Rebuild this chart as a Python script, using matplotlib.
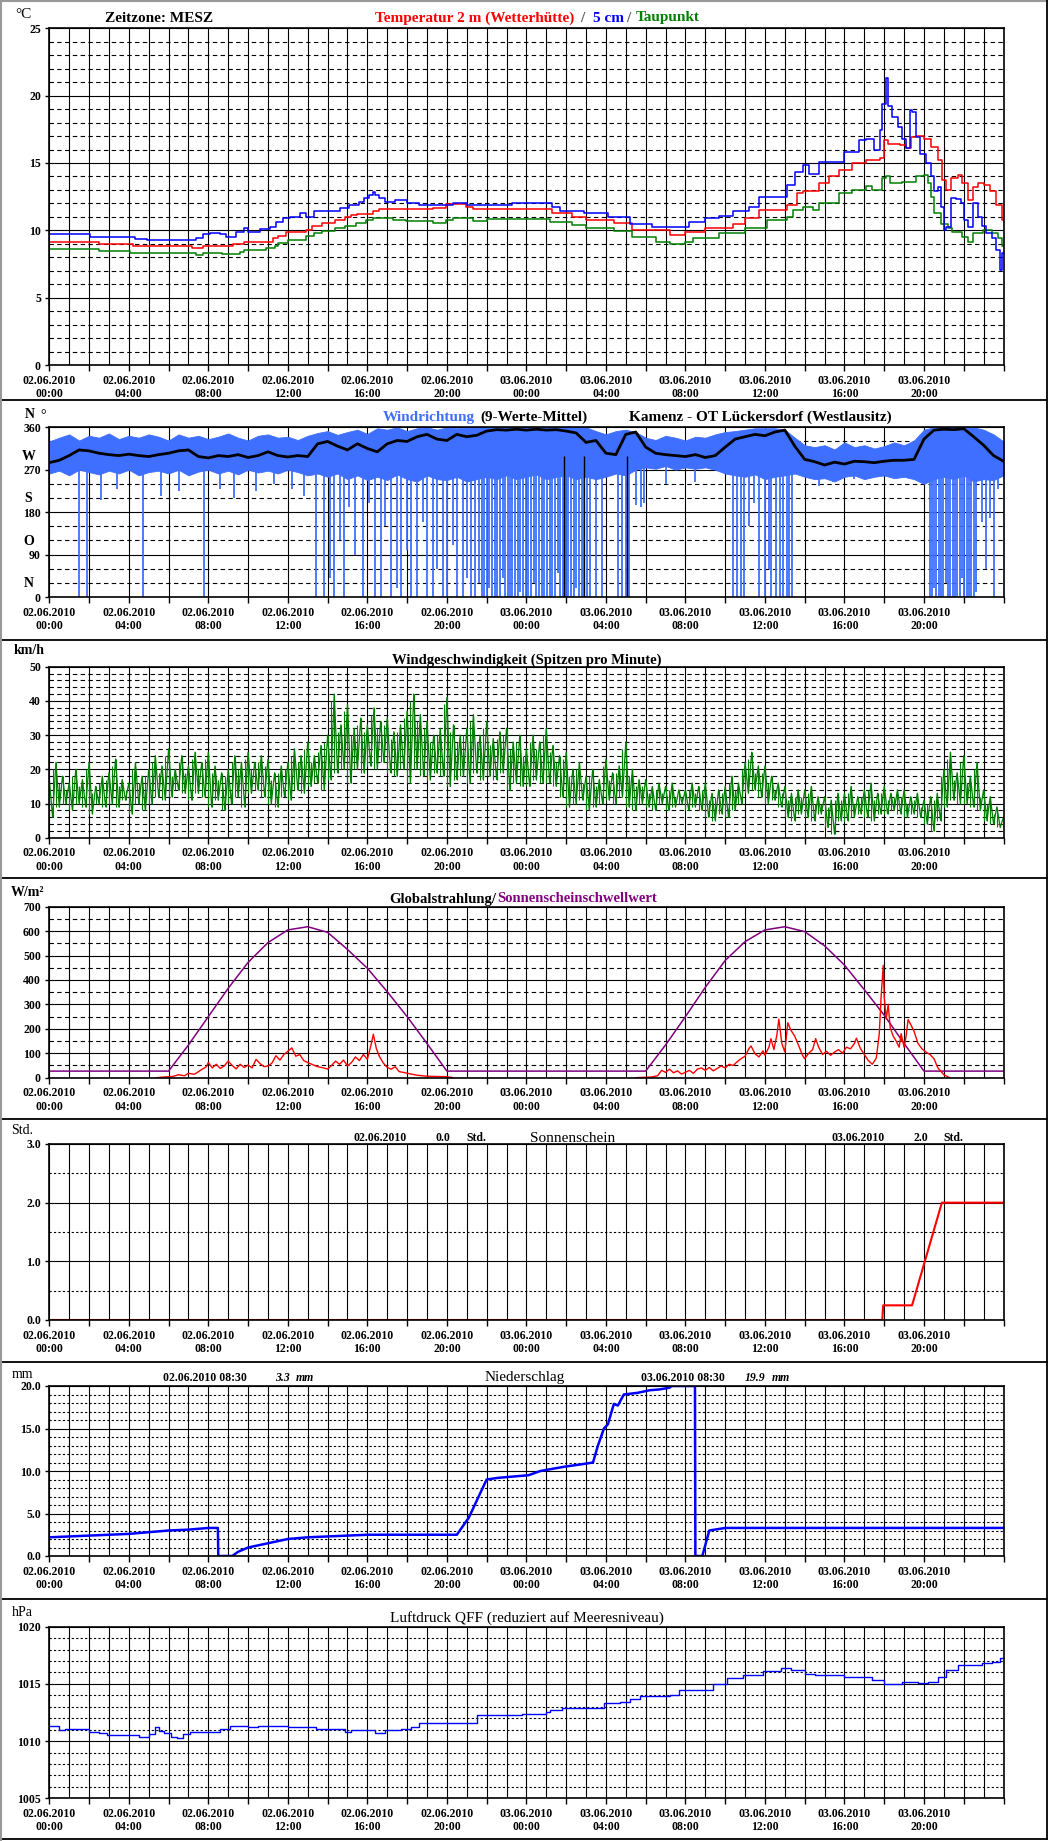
import numpy as np
import matplotlib.pyplot as plt
from matplotlib.lines import Line2D

W, H = 1052, 1841

# all times in hours since 02.06.2010 00:00 (MESZ)

# temperature 2 m (red), 5 cm (blue), dew point (green)
t2m_hours = [0, 2.5, 4.2, 4.9, 7.2, 7.75, 9.25, 9.8, 11.25, 11.5, 11.9, 12.9, 13.2, 13.7, 14.35, 14.85,
             15.2, 15.5, 16.3, 16.6, 19.3, 19.95, 20.95, 21.3, 25.3, 26.3, 27.0, 28.4, 29.3, 31.2, 32.0,
             33.0, 34.4, 35.0, 35.7, 37.1, 37.6, 37.9, 38.7, 39.2, 39.7, 40.4, 41.1, 41.8, 42.0, 42.2,
             42.8, 43.1, 43.35, 43.6, 44.0, 44.35, 44.7, 44.9, 45.1, 45.35, 45.7, 45.9, 46.2, 46.45,
             46.7, 47.0, 47.3, 47.6, 47.9, 48]
t2m_vals = [9.16, 8.96, 8.86, 8.84, 8.7, 8.84, 8.98, 9.16, 9.4, 9.58, 9.85, 10.0, 10.35, 10.57, 10.77, 10.97,
            11.14, 11.2, 11.43, 11.56, 11.68, 11.95, 11.75, 11.56, 11.26, 11.0, 10.8, 10.57, 10.0, 9.65, 9.9,
            10.15, 10.47, 10.9, 11.5, 11.9, 12.75, 12.9, 13.5, 14.0, 14.5, 15.0, 15.2, 15.35, 16.7, 16.4,
            16.3, 16.1, 16.95, 17.0, 16.8, 16.2, 15.2, 13.7, 13.0, 13.86, 14.1, 13.5, 12.25, 13.2,
            13.5, 13.4, 12.9, 11.9, 10.8, 10.6]

t5cm_hours = [0, 2.05, 3.05, 4.3, 4.9, 7.4, 7.75, 8.1, 8.6, 8.9, 9.4, 9.8, 10.0, 10.6, 11.1, 11.4, 11.75,
              12.1, 12.6, 12.9, 13.3, 14.3, 14.6, 15.1, 15.6, 15.85, 16.1, 16.3, 16.4, 16.6, 16.9, 17.4,
              18.0, 18.6, 20.3, 21.0, 23.3, 25.3, 25.7, 26.9, 28.1, 29.2, 30.3, 32.2, 33.0, 33.7, 34.4,
              35.2, 35.7, 37.1, 37.5, 37.9, 38.2, 38.7, 40.0, 40.75, 41.1, 41.5, 41.8, 41.9, 42.1, 42.2,
              42.4, 42.7, 42.9, 43.1, 43.3, 43.4, 43.6, 43.8, 44.1, 44.35, 44.5, 44.7, 44.85, 45.0, 45.1,
              45.35, 45.6, 45.85, 46.0, 46.2, 46.45, 46.7, 46.9, 47.1, 47.4, 47.6, 47.8, 47.9, 48]
t5cm_vals = [9.7, 9.53, 9.48, 9.33, 9.28, 9.4, 9.7, 9.8, 9.73, 9.53, 9.9, 10.15, 9.9, 10.07, 10.27, 10.6, 10.9,
             11.0, 11.26, 11.0, 11.4, 11.46, 11.68, 11.9, 12.13, 12.4, 12.6, 12.87, 12.6, 12.4, 12.13, 12.25,
             12.05, 11.9, 12.0, 11.9, 12.0, 11.75, 11.46, 11.26, 11.0, 10.5, 10.27, 10.6, 10.9, 11.06, 11.4,
             11.75, 12.5, 13.4, 14.35, 14.85, 14.2, 15.1, 15.84, 16.7, 16.8, 15.96, 17.45, 19.4, 21.3, 19.2,
             18.4, 17.7, 16.8, 16.1, 18.9, 18.8, 16.95, 15.7, 14.98, 14.0, 12.9, 13.2, 11.75, 10.0, 10.27,
             12.4, 12.3, 12.0, 10.77, 10.27, 12.0, 11.0, 10.3, 9.78, 9.4, 8.54, 7.05, 8.3, 8.3]

dew_hours = [0, 2.5, 4.05, 4.9, 7.4, 7.75, 8.7, 9.6, 9.8, 10.9, 11.35, 11.5, 12.0, 12.9, 13.3, 13.7, 14.35,
             14.85, 15.45, 15.95, 16.3, 17.3, 17.95, 19.3, 19.95, 20.3, 21.3, 22.0, 25.2, 26.3, 27.0, 28.4,
             29.3, 30.5, 31.2, 32.0, 32.4, 33.7, 35.0, 36.1, 37.1, 37.4, 37.9, 38.4, 38.7, 39.7, 40.4, 41.1,
             41.4, 41.9, 42.1, 42.3, 42.9, 43.6, 44.0, 44.2, 44.35, 44.5, 44.85, 45.2, 45.4, 45.9, 46.2,
             46.45, 46.95, 47.4, 47.7, 47.9, 48]
dew_vals = [8.61, 8.47, 8.34, 8.29, 8.17, 8.29, 8.24, 8.42, 8.54, 8.66, 8.84, 9.03, 9.28, 9.58, 9.78, 9.95, 10.15,
            10.32, 10.52, 10.77, 10.9, 10.8, 10.7, 10.57, 10.77, 10.94, 10.72, 10.84, 10.6, 10.4, 10.15, 9.98,
            9.48, 9.16, 8.98, 9.16, 9.4, 9.78, 10.15, 10.77, 11.0, 11.5, 11.75, 11.5, 12.0, 12.75, 13.0, 13.3,
            13.0, 13.86, 14.0, 13.5, 13.6, 14.0, 14.1, 13.5, 12.5, 11.26, 10.5, 10.15, 9.9, 9.5, 9.16,
            9.78, 10.0, 9.78, 9.4, 8.8, 8.8]

# wind direction, half-hourly: band edges and 9-value mean
dir_hours = np.arange(0, 48.5, 0.5)
dir_hi = [330, 338, 345, 332, 342, 338, 347, 335, 342, 338, 345,
          340, 332, 345, 338, 342, 335, 340, 347, 338, 332, 342,
          345, 338, 340, 333, 342, 348, 352, 344, 350, 355, 346,
          358, 355, 360, 352, 358, 360, 355, 360, 358, 360, 360,
          360, 360, 360, 360, 360, 360, 360, 360, 360, 360, 360,
          352, 345, 352, 355, 350, 338, 333, 342, 338, 332, 340,
          338, 345, 350, 352, 355, 358, 358, 358, 355, 338, 322,
          318, 322, 313, 328, 318, 322, 315, 320, 328, 322, 332,
          355, 360, 360, 360, 360, 360, 355, 345, 330]
dir_lo = [262, 268, 258, 270, 265, 260, 268, 262, 270, 258, 265,
          268, 262, 270, 258, 266, 270, 262, 268, 260, 270, 264,
          268, 262, 270, 265, 258, 262, 255, 262, 250, 258, 248,
          255, 248, 260, 250, 245, 258, 250, 248, 255, 245, 250,
          255, 250, 258, 250, 255, 260, 250, 255, 258, 250, 255,
          250, 255, 262, 258, 270, 275, 272, 278, 270, 275, 272,
          275, 270, 262, 258, 255, 260, 250, 255, 258, 262, 255,
          250, 252, 245, 255, 258, 250, 255, 258, 252, 255, 250,
          240, 250, 255, 250, 258, 245, 250, 248, 258]
dir_mean = [285, 290, 300, 312, 310, 305, 302, 300, 303, 300,
            298, 302, 305, 310, 312, 298, 295, 300, 298, 302,
            296, 300, 308, 300, 297, 300, 298, 325, 330, 320,
            312, 325, 315, 308, 325, 332, 330, 340, 345, 335,
            332, 345, 340, 343, 352, 355, 354, 356, 354, 356,
            354, 355, 352, 348, 328, 332, 305, 302, 345, 350,
            318, 305, 302, 300, 298, 302, 296, 300, 318, 335,
            340, 345, 342, 350, 354, 320, 292, 287, 280, 286,
            282, 288, 287, 285, 288, 290, 290, 292, 335, 354,
            356, 355, 357, 340, 322, 300, 288]
spike_hours = [1.5, 1.9, 2.6, 3.4, 4.7, 5.6, 6.5, 7.8, 8.6, 9.3, 10.4, 11.3, 12.2, 12.8, 13.4, 13.8, 14.1,
               14.3, 14.6, 14.8, 15.1, 15.4, 15.8, 16.1, 16.4, 16.7, 16.9, 17.2, 17.5, 17.7, 18.0, 18.2,
               18.5, 18.8, 19.0, 19.3, 19.5, 19.8, 20.0, 20.3, 20.5, 20.8, 21.0, 21.2, 21.4,
               21.6, 21.75, 21.85, 22.0, 22.1, 22.25, 22.4, 22.5, 22.65, 22.8, 22.9, 23.05, 23.2, 23.3,
               23.45, 23.6, 23.7, 23.85, 24.0, 24.1, 24.25, 24.4, 24.5, 24.65, 24.8, 24.9, 25.05, 25.2,
               25.3, 25.45, 25.6, 25.7, 25.85, 26.0, 26.1, 26.25, 26.4, 26.5, 26.65, 26.8, 26.9, 27.05,
               27.2, 27.5, 27.8, 28.6, 28.8, 29.0, 29.15, 29.5, 29.75, 29.9, 31.0, 32.5, 34.4, 34.6, 34.8,
               34.95, 35.2, 35.46, 35.72, 35.98, 36.2, 36.3, 36.57, 36.74, 36.92, 37.09, 37.2, 37.34, 38.7,
               39.4, 40.5, 44.3, 44.4, 44.5, 44.6, 44.75, 44.85, 44.95, 45.1, 45.2, 45.3, 45.45, 45.55,
               45.65, 45.8, 45.9, 46.0, 46.15, 46.25, 46.35, 46.5, 46.6, 46.9, 47.1, 47.33, 47.5, 47.7]
spike_bottoms = [0, 0, 205, 230, 0, 215, 225, 0, 230, 210, 225, 240, 230, 215, 0, 0, 40,
                 0, 120, 0, 190, 90, 0, 200, 0, 0, 150, 0, 20, 0, 100, 0,
                 0, 160, 0, 0, 60, 0, 0, 110, 0, 0, 40, 0, 0,
                 30, 0, 0, 0, 20, 0, 0, 0, 0, 40, 0, 0, 0, 0,
                 0, 0, 10, 0, 0, 0, 0, 30, 0, 0, 0, 0, 0, 0,
                 0, 0, 50, 0, 0, 0, 0, 0, 0, 20, 0, 0, 0, 0,
                 0, 0, 0, 0, 0, 0, 0, 195, 190, 200, 240, 245, 0, 0, 0,
                 0, 150, 200, 0, 0, 60, 0, 0, 0, 0, 0, 0, 0, 235,
                 245, 250, 0, 0, 20, 0, 0, 0, 0, 30, 0, 0, 0, 0,
                 0, 0, 40, 0, 0, 0, 0, 0, 10, 160, 60, 168, 0, 230]
black_drop_hours = [25.9, 26.9, 29.05]

# wind gusts, every 20 minutes: local maxima / minima
speed_hi = [17, 22, 18, 16, 20, 17, 22, 15, 18, 19, 23, 17, 16, 22, 18, 20, 24, 21, 26, 20, 24,
            21, 25, 22, 25, 21, 19, 20, 24, 22, 25, 22, 24, 23, 19, 21, 22, 26, 24, 28, 24, 27,
            30, 42, 33, 39, 32, 35, 33, 38, 34, 35, 31, 33, 37, 42, 36, 34, 30, 32, 41, 33, 30,
            32, 36, 30, 34, 29, 31, 32, 28, 30, 26, 30, 28, 32, 27, 24, 25, 20, 22, 18, 20, 17,
            23, 19, 21, 28, 20, 17, 17, 15, 16, 15, 16, 14, 14, 16, 15, 16, 13, 14, 15, 18, 16,
            22, 25, 21, 21, 18, 16, 15, 13, 14, 14, 15, 12, 12, 11, 13, 13, 15, 12, 14, 16, 13,
            15, 13, 14, 14, 12, 13, 11, 12, 13, 20, 25, 19, 24, 18, 22, 14, 12, 9, 6]
speed_lo = [6, 9, 10, 8, 10, 9, 7, 10, 9, 10, 9, 11, 7, 10, 8, 10, 12, 11, 12, 14, 13,
            11, 13, 12, 9, 11, 8, 10, 12, 9, 13, 14, 12, 10, 9, 12, 11, 14, 13, 15, 16, 14,
            17, 19, 20, 16, 20, 19, 21, 20, 22, 19, 18, 20, 16, 20, 18, 17, 19, 18, 15, 17, 18,
            16, 19, 17, 18, 17, 19, 14, 16, 15, 15, 17, 16, 16, 15, 12, 9, 10, 11, 8, 9, 10,
            11, 10, 12, 9, 8, 10, 9, 8, 10, 8, 9, 10, 8, 9, 8, 6, 5, 7, 6, 8, 10,
            13, 14, 12, 10, 11, 9, 6, 5, 7, 6, 5, 7, 3, 1, 5, 5, 6, 7, 6, 5, 7,
            7, 8, 7, 6, 7, 6, 4, 2, 5, 9, 11, 10, 10, 9, 8, 5, 4, 3]

# global radiation (red) and sunshine threshold (purple)
thr_hours = np.arange(0, 49, 1)
thr_vals = [27, 27, 27, 27, 27, 27, 27,
            134, 250, 366, 472, 553, 605, 618, 595, 525, 448, 352, 250, 140,
            27, 27, 27, 27, 27, 27, 27, 27, 27, 27, 27,
            134, 250, 370, 480, 557, 605, 618, 598, 540, 461, 360, 256, 140,
            27, 27, 27, 27, 27]
rad1_hours = [5.4, 5.8, 6.2, 6.5, 6.8, 7.0, 7.3, 7.6, 7.9, 8.0, 8.2, 8.4, 8.6, 8.8, 9.0, 9.2, 9.4, 9.6,
              9.8, 10.0, 10.2, 10.4, 10.6, 10.8, 11.0, 11.2, 11.4, 11.6, 11.8, 12.0, 12.2, 12.4, 12.6,
              12.8, 13.0, 13.2, 13.5, 13.8, 14.0, 14.2, 14.4, 14.6, 14.8, 15.0, 15.2, 15.4, 15.6, 15.8,
              16.0, 16.2, 16.3, 16.45, 16.6, 16.8, 17.0, 17.2, 17.4, 17.6, 17.9, 18.2, 18.5, 19.0, 19.5,
              20.0, 20.3]
rad1_vals = [0, 3, 5, 12, 8, 18, 14, 30, 45, 62, 40, 55, 38, 48, 68, 50, 36, 55,
             42, 52, 40, 75, 58, 45, 48, 60, 90, 72, 95, 108, 122, 88, 95,
             70, 62, 55, 45, 40, 35, 50, 68, 55, 72, 48, 62, 85, 70, 95,
             75, 140, 178, 120, 88, 60, 42, 35, 45, 25, 20, 15, 10, 6, 5,
             4, 0]
rad2_hours = [29.5, 30.3, 30.6, 30.8, 31.0, 31.2, 31.4, 31.6, 31.8, 32.0, 32.2, 32.4, 32.6, 32.8, 33.0,
              33.2, 33.4, 33.6, 33.8, 34.0, 34.2, 34.4, 34.6, 34.8, 35.0, 35.2, 35.3, 35.5, 35.7, 35.9,
              36.0, 36.2, 36.3, 36.45, 36.6, 36.7, 36.85, 37.0, 37.15, 37.3, 37.5, 37.7, 37.9, 38.0,
              38.2, 38.4, 38.55, 38.7, 38.9, 39.1, 39.3, 39.5, 39.7, 39.9, 40.1, 40.3, 40.5, 40.6, 40.8,
              41.0, 41.2, 41.4, 41.6, 41.75, 41.85, 41.95, 42.0, 42.1, 42.2, 42.3, 42.45, 42.6, 42.75,
              42.85, 43.0, 43.1, 43.2, 43.35, 43.5, 43.7, 43.9, 44.1, 44.3, 44.5, 44.7, 45.0, 45.3]
rad2_vals = [0, 3, 8, 30, 22, 35, 20, 28, 15, 22, 30, 18, 35, 40, 30,
             42, 28, 38, 48, 40, 55, 50, 65, 78, 88, 120, 130, 98, 85, 110,
             92, 125, 160, 115, 175, 240, 140, 105, 225, 195, 170, 130, 90, 78,
             100, 115, 160, 125, 95, 108, 92, 105, 115, 100, 125, 118, 140, 162, 120,
             95, 70, 55, 80, 180, 340, 460, 330, 240, 300, 205, 170, 150, 125,
             180, 125, 170, 238, 215, 190, 140, 118, 105, 95, 78, 40, 12, 0]

# sunshine duration (accumulated hours)
sun_hours = [0, 41.9, 41.95, 43.4, 44.9, 48]
sun_vals = [0, 0, 0.25, 0.25, 2.0, 2.0]

# precipitation (accumulated, reset at 08:30)
rain_hours = [0, 1, 3, 4, 5, 6, 7, 8, 8.48, 8.5, 9.2, 9.5, 10, 11, 12, 13, 14, 16, 20.5, 21.1, 21.6,
              22.0, 22.6, 24.1, 24.7, 25.9, 26.8, 27.35, 27.6, 27.9, 28.1, 28.4, 28.6, 28.9, 29.6, 30.2,
              30.7, 31.2, 31.3, 32.48, 32.5, 32.85, 33.2, 34.0, 48]
rain_vals = [2.2, 2.3, 2.5, 2.6, 2.8, 3.0, 3.1, 3.3, 3.3, 0, 0, 0.5, 1.0, 1.5, 2.0, 2.2, 2.3, 2.5, 2.5, 4.5, 7.0,
             9.0, 9.2, 9.5, 10.0, 10.5, 10.8, 11.0, 13.0, 15.0, 15.5, 17.9, 17.7, 19.0, 19.2, 19.5,
             19.6, 19.8, 20.0, 20.0, 0, 0, 3.0, 3.3, 3.3]

# air pressure QFF
qff_hours = [0, 0.5, 0.8, 1.7, 2.0, 2.5, 2.9, 4.5, 5.0, 5.3, 5.5, 5.75, 6.1, 6.4, 6.75, 7.1, 8.6, 9.1, 10.0,
             10.5, 12.0, 13.4, 14.4, 14.9, 15.2, 15.7, 16.4, 16.9, 17.7, 18.2, 18.6, 19.4, 19.9, 21.5,
             23.8, 25.0, 25.2, 25.8, 27.9, 28.7, 29.2, 29.7, 31.2, 31.7, 33.4, 34.1, 34.9, 35.9, 36.8,
             37.3, 38.0, 38.5, 40.0, 41.4, 42.0, 42.9, 43.7, 44.2, 44.7, 45.1, 45.7, 46.9, 47.4, 47.8, 48]
qff_vals = [1011.3, 1011.0, 1011.1, 1011.1, 1010.8, 1010.7, 1010.5, 1010.4, 1010.6, 1011.2, 1010.9, 1010.7,
            1010.4, 1010.3, 1010.6, 1010.8, 1011.1, 1011.35, 1011.25, 1011.35, 1011.25, 1011.05, 1011.05,
            1010.8, 1010.95, 1011.0, 1010.7, 1011.0, 1011.05, 1011.25, 1011.6, 1011.55, 1011.6, 1012.25,
            1012.4, 1012.5, 1012.7, 1012.9, 1013.35, 1013.45, 1013.7, 1013.9, 1014.0, 1014.5, 1015.0,
            1015.5, 1015.8, 1016.1, 1016.4, 1016.2, 1015.9, 1015.8, 1015.6, 1015.3, 1015.0, 1015.2,
            1015.05, 1015.2, 1015.6, 1016.25, 1016.65, 1016.8, 1016.95, 1017.3, 1017.3]

plt.rcParams['font.family'] = ['Liberation Serif', 'DejaVu Serif']

fig = plt.figure(figsize=(W / 100, H / 100), dpi=100)

WD_BLUE = '#3f6fff'


def add_panel(top, bottom):
    return fig.add_axes([49.3 / W, 1 - bottom / H, (1003.5 - 49.3) / W, (bottom - top) / H])


def ftext(x, y, s, **kw):
    kw.setdefault('va', 'center')
    fig.text(x / W, 1 - y / H, s, **kw)


xticks = np.arange(0, 49, 2)
xlabels = []
for h in xticks:
    if h % 4 == 0 and h < 48:
        day = '02.06.2010' if h < 24 else '03.06.2010'
        xlabels.append(f'{day}\n{h % 24:02d}:00')
    else:
        xlabels.append('')


def setup(ax, ymin, ymax, major, minor, ylabels, hourly=True, dash=(4, 3)):
    ax.set_xlim(0, 48)
    ax.set_ylim(ymin, ymax)
    ax.set_xticks(xticks)
    ax.set_xticklabels(xlabels)
    if hourly:
        ax.set_xticks(np.arange(0, 49, 1), minor=True)
    ax.set_yticks(major)
    ax.set_yticklabels(ylabels)
    ax.set_yticks(minor, minor=True)
    ax.tick_params(which='major', axis='x', length=4, width=1, pad=3, labelsize=8.5)
    ax.tick_params(which='major', axis='y', length=3, width=1, pad=3, labelsize=8.5)
    ax.tick_params(which='minor', length=0)
    for lab in ax.get_xticklabels() + ax.get_yticklabels():
        lab.set_fontweight('bold')
        lab.set_linespacing(1.15)
    ax.grid(which='both', axis='x', color='k', lw=0.8, ls='-')
    ax.grid(which='major', axis='y', color='k', lw=0.8, ls='-')
    ax.grid(which='minor', axis='y', color='k', lw=0.8, ls=(0, dash))
    ax.set_axisbelow(True)
    for s in ax.spines.values():
        s.set_linewidth(1.2)


# ---- panel 1: temperature ----
ax1 = add_panel(28.3, 365)
setup(ax1, 0, 25, np.arange(0, 26, 5), np.arange(0, 26, 1), [str(v) for v in range(0, 26, 5)])
ax1.plot(t2m_hours, t2m_vals, color='red', lw=1.1, drawstyle='steps-post')
ax1.plot(dew_hours, dew_vals, color='green', lw=1.1, drawstyle='steps-post')
ax1.plot(t5cm_hours, t5cm_vals, color='blue', lw=1.1, drawstyle='steps-post')
ftext(23, 15, '°C', ha='center', fontsize=11)
ftext(105, 18, 'Zeitzone: MESZ', fontsize=11, fontweight='bold')
ftext(375, 18, 'Temperatur 2 m (Wetterhütte)', color='red', fontsize=11, fontweight='bold')
ftext(580, 18, '/', color='#555555', fontsize=11, fontweight='bold')
ftext(593, 18, '5 cm', color='blue', fontsize=11, fontweight='bold')
ftext(626, 18, '/', color='#555555', fontsize=11, fontweight='bold')
ftext(636, 18, 'Taupunkt', color='green', fontsize=11, fontweight='bold')

# ---- panel 2: wind direction ----
ax2 = add_panel(427.3, 597)
setup(ax2, 0, 360, np.arange(0, 361, 90), np.arange(0, 361, 30),
      [str(v) for v in range(0, 361, 90)], hourly=False)
ax2.fill_between(dir_hours, dir_lo, dir_hi, color=WD_BLUE, lw=0.6)
ax2.vlines(spike_hours, spike_bottoms, 300, color=WD_BLUE, lw=1.3)
ax2.vlines(black_drop_hours, 0, 300, color='k', lw=1)
ax2.plot(dir_hours, dir_mean, color='k', lw=2)
for val, letter in zip([0, 90, 180, 270], ['N', 'O', 'S', 'W']):
    ax2.text(-0.022, val + 28, letter, transform=ax2.get_yaxis_transform(), ha='center', va='center',
             fontsize=10, fontweight='bold')
ftext(30, 414, 'N', ha='center', fontsize=10, fontweight='bold')
ftext(43, 416, '°', ha='center', fontsize=10)
ftext(383, 417, 'Windrichtung', color=WD_BLUE, fontsize=11, fontweight='bold')
ftext(480, 417, '(9-Werte-Mittel)', fontsize=11, fontweight='bold')
ftext(629, 417, 'Kamenz - OT Lückersdorf (Westlausitz)', fontsize=11, fontweight='bold')

# ---- panel 3: wind speed ----
ax3 = add_panel(666.7, 837.7)
setup(ax3, 0, 50, np.arange(0, 51, 10), np.arange(0, 51, 2), [str(v) for v in range(0, 51, 10)])
sp_t, sp_v = [], []
for i in range(len(speed_lo)):
    sp_t += [i / 3, i / 3 + 1 / 6]
    sp_v += [speed_hi[i], speed_lo[i]]
sp_t.append(48)
sp_v.append(speed_hi[-1])
lo_t = [i / 3 + 1 / 6 for i in range(len(speed_lo))]
ax3.vlines(np.arange(len(speed_hi)) / 3, np.append(speed_lo, speed_lo[-1]), speed_hi, color='green', lw=0.8)
ax3.vlines(lo_t, speed_lo, np.array(speed_hi[1:]) - 2, color='green', lw=0.8)
ax3.plot(sp_t, sp_v, color='green', lw=0.9)
ftext(29, 650, 'km/h', ha='center', fontsize=10, fontweight='bold')
ftext(527, 660, 'Windgeschwindigkeit (Spitzen pro Minute)', ha='center', fontsize=10.5, fontweight='bold')

# ---- panel 4: global radiation ----
ax4 = add_panel(906.7, 1077.7)
setup(ax4, 0, 700, np.arange(0, 701, 100), np.arange(0, 701, 50), [str(v) for v in range(0, 701, 100)])
ax4.plot(thr_hours, thr_vals, color='purple', lw=1.1)
ax4.plot(rad1_hours, rad1_vals, color='red', lw=1)
ax4.plot(rad2_hours, rad2_vals, color='red', lw=1)
ftext(28, 893, 'W/m²', ha='center', fontsize=10, fontweight='bold')
ftext(389, 899, 'Globalstrahlung/', fontsize=10.5, fontweight='bold')
ftext(497, 899, 'Sonnenscheinschwellwert', color='purple', fontsize=10.5, fontweight='bold')

# ---- panel 5: sunshine ----
ax5 = add_panel(1144, 1320)
setup(ax5, 0, 3, [0, 1, 2, 3], np.arange(0, 3.01, 0.5), ['0.0', '1.0', '2.0', '3.0'], dash=(2, 2))
ax5.plot(sun_hours, sun_vals, color='red', lw=1.5)
ftext(22, 1131, 'Std.', ha='center', fontsize=10)
ftext(354, 1138, '02.06.2010', fontsize=8.5, fontweight='bold')
ftext(436, 1138, '0.0', fontsize=8.5, fontweight='bold')
ftext(466, 1138, 'Std.', fontsize=8.5, fontweight='bold')
ftext(530, 1138, 'Sonnenschein', fontsize=11)
ftext(831, 1138, '03.06.2010', fontsize=8.5, fontweight='bold')
ftext(913, 1138, '2.0', fontsize=8.5, fontweight='bold')
ftext(943, 1138, 'Std.', fontsize=8.5, fontweight='bold')

# ---- panel 6: precipitation ----
ax6 = add_panel(1386, 1556)
setup(ax6, 0, 20, np.arange(0, 21, 5), np.arange(0, 21, 1),
      ['0.0', '5.0', '10.0', '15.0', '20.0'], dash=(2, 2))
ax6.plot(rain_hours, rain_vals, color='blue', lw=1.8)
ftext(22, 1375, 'mm', ha='center', fontsize=10)
ftext(163, 1378, '02.06.2010 08:30', fontsize=8.5, fontweight='bold')
ftext(275, 1378, '3.3', fontsize=8.5, fontweight='bold', style='italic')
ftext(296, 1378, 'mm', fontsize=8.5, fontweight='bold', style='italic')
ftext(485, 1378, 'Niederschlag', fontsize=11)
ftext(641, 1378, '03.06.2010 08:30', fontsize=8.5, fontweight='bold')
ftext(745, 1378, '19.9', fontsize=8.5, fontweight='bold', style='italic')
ftext(772, 1378, 'mm', fontsize=8.5, fontweight='bold', style='italic')

# ---- panel 7: pressure ----
ax7 = add_panel(1626.7, 1798.3)
setup(ax7, 1005, 1020, np.arange(1005, 1021, 5), np.arange(1005, 1021, 1),
      [str(v) for v in range(1005, 1021, 5)], dash=(2, 2))
ax7.plot(qff_hours, qff_vals, color='blue', lw=1, drawstyle='steps-post')
ftext(22, 1612, 'hPa', ha='center', fontsize=10)
ftext(527, 1618, 'Luftdruck QFF (reduziert auf Meeresniveau)', ha='center', fontsize=11)

# frame and separators
for y in [400, 640, 878, 1119, 1362, 1599, 1839]:
    fig.add_artist(Line2D([1 / W, 1047 / W], [1 - y / H, 1 - y / H], color='k', lw=1.3))
fig.add_artist(Line2D([1 / W, 1 / W], [0, 1], color='#999999', lw=1.5))
fig.add_artist(Line2D([0, 1047 / W], [1 - 1 / H, 1 - 1 / H], color='#999999', lw=1.5))
fig.add_artist(Line2D([1047 / W, 1047 / W], [1 - 1839 / H, 1], color='k', lw=1.3))

fig.savefig('out.png', dpi=100, facecolor='white')
